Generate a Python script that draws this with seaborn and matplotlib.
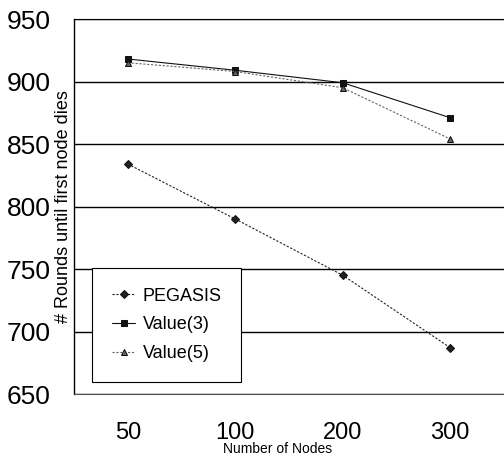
import pandas as pd
import seaborn as sns
import matplotlib.pyplot as plt
from matplotlib.ticker import FixedLocator

# Data
nodes = ["50", "100", "200", "300"]
pegasis = [834, 790, 745, 687]
value3 = [918, 909, 899, 871]
value5 = [915, 908, 895, 854]

series = ["PEGASIS", "Value(3)", "Value(5)"]

df = pd.DataFrame({
    "Nodes": nodes * 3,
    "Rounds": pegasis + value3 + value5,
    "Series": [s for s in series for _ in nodes],
})

sns.set_style("white")
plt.rcParams["font.family"] = ["Liberation Sans", "DejaVu Sans"]
plt.rcParams["text.color"] = "black"
plt.rcParams["xtick.color"] = "black"
plt.rcParams["ytick.color"] = "black"
plt.rcParams["axes.labelcolor"] = "black"

fig = plt.figure(figsize=(5.04, 4.61), dpi=100)
# axes box: left 74px, right 504px, top 19px, bottom 394px
ax = fig.add_axes([74 / 504, (461 - 394) / 461, 430 / 504, 375 / 461])

palette = {"PEGASIS": "#222222", "Value(3)": "#111111", "Value(5)": "#666666"}
markers = {"PEGASIS": "D", "Value(3)": "s", "Value(5)": "^"}
dashes = {"PEGASIS": (2, 1.5), "Value(3)": "", "Value(5)": (2, 1.5)}

sns.lineplot(data=df, x="Nodes", y="Rounds", hue="Series", style="Series",
             palette=palette, markers=markers, dashes=dashes,
             linewidth=0.8, markersize=4.5, markeredgecolor="#111111",
             sort=False, ax=ax)

# horizontal gridlines
for y in range(650, 951, 50):
    ax.axhline(y, color="black", lw=1.0, zorder=0)

ax.set_ylim(650, 950)
ax.set_xlim(-0.5, 3.5)
ax.set_yticks(range(650, 951, 50))

ax.tick_params(axis="x", which="major", length=0, pad=20, labelsize=17)
ax.tick_params(axis="y", which="major", length=0, pad=17, labelsize=19)
ax.xaxis.set_minor_locator(FixedLocator([0.5, 1.5, 2.5]))
ax.tick_params(axis="x", which="minor", direction="in", length=7, width=0.8, color="black")

ax.set_xlabel("Number of Nodes", fontsize=10)
ax.xaxis.label.set_va("center")
ax.xaxis.set_label_coords(0.473, -(449 - 394) / 375)
ax.set_ylabel("# Rounds until first node dies", fontsize=13)
ax.yaxis.label.set_va("center")
ax.yaxis.set_label_coords(-(74 - 64) / 430, 0.5)

ax.spines["right"].set_visible(False)
ax.spines["left"].set_color("black")
ax.spines["left"].set_linewidth(1.0)
ax.spines["top"].set_color("black")
ax.spines["bottom"].set_color("#555555")
ax.spines["bottom"].set_linewidth(0.8)

leg = ax.legend(loc="lower left", bbox_to_anchor=(0.042, 0.032), borderaxespad=0,
                fontsize=13, frameon=True, fancybox=False, handlelength=1.3,
                labelspacing=0.65, borderpad=1.1, handletextpad=0.4)
leg.get_frame().set_edgecolor("black")
leg.get_frame().set_linewidth(0.8)
leg.get_frame().set_alpha(1)

fig.savefig("out.png", dpi=100)
